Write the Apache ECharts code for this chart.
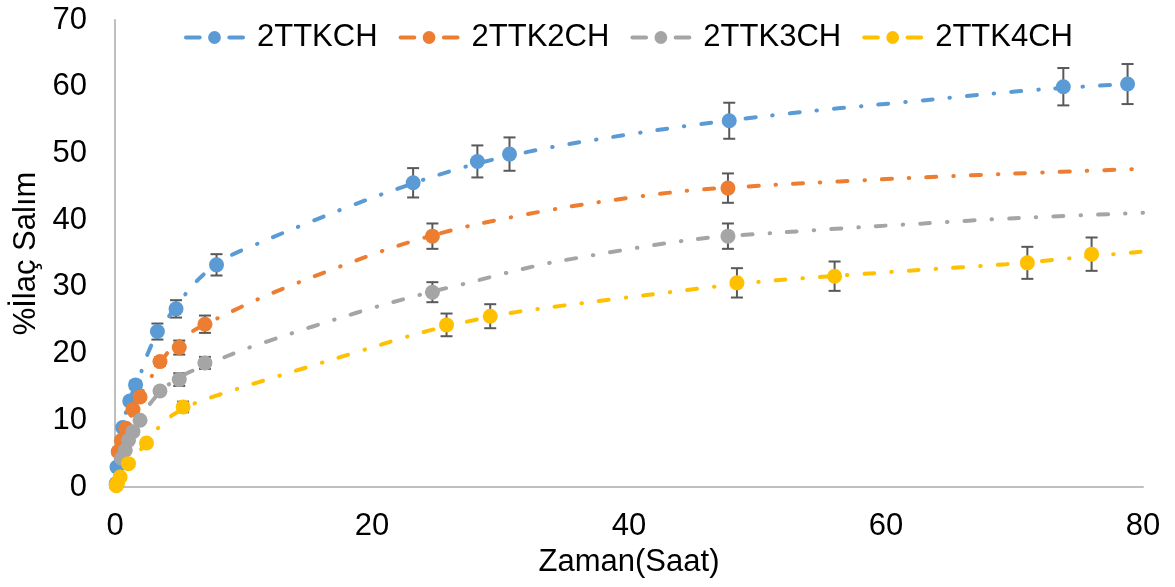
<!DOCTYPE html>
<html>
<head>
<meta charset="utf-8">
<script src="https://cdn.jsdelivr.net/npm/echarts@6/dist/echarts.min.js"></script>
<style>
  html, body { margin: 0; padding: 0; background: #ffffff; }
  #chart { width: 1175px; height: 587px; }
</style>
</head>
<body>
<div id="chart"></div>
<script>
// Series names and colours
const seriesNames = ['2TTKCH', '2TTK2CH', '2TTK3CH', '2TTK4CH'];
const seriesColors = ['#5B9BD5', '#ED7D31', '#A5A5A5', '#FFC000'];

// Axis ticks
const xTicks = [0, 20, 40, 60, 80];
const yTicks = [0, 10, 20, 30, 40, 50, 60, 70];

// Measured release points [time (h), % released]
const pts2TTKCH = [[0.1,0.5],[0.15,3.0],[0.6,8.9],[1.15,12.9],[1.6,15.3],[3.3,23.3],[4.75,26.7],[7.9,33.3],[23.2,45.6],[28.2,48.8],[30.7,49.9],[47.8,54.9],[73.8,60.0],[78.8,60.4]];
const pts2TTK2CH = [[0.1,0.3],[0.25,5.3],[0.5,7.0],[0.85,8.8],[1.4,11.6],[1.95,13.5],[3.5,18.8],[5.0,20.9],[7.0,24.4],[24.7,37.6],[47.7,44.8]];
const pts2TTK3CH = [[0.1,0.3],[0.5,4.3],[0.8,5.5],[1.05,7.0],[1.4,8.3],[1.95,10.0],[3.5,14.4],[5.0,16.1],[7.0,18.6],[24.7,29.2],[47.7,37.6]];
const pts2TTK4CH = [[0.1,0.2],[0.2,0.6],[0.4,1.5],[1.05,3.5],[2.45,6.6],[5.3,12.0],[25.8,24.3],[29.2,25.6],[48.4,30.6],[56.0,31.6],[71.0,33.6],[76.0,34.9]];

// Standard deviations (± error bars)
const err2TTKCH = [0.2,0.3,0.4,0.5,0.6,1.2,1.3,1.6,2.2,2.4,2.5,2.7,2.8,3.0];
const err2TTK2CH = [0.1,0.2,0.3,0.3,0.4,0.5,0.6,1.05,1.3,1.9,2.2];
const err2TTK3CH = [0.1,0.2,0.3,0.3,0.4,0.4,0.5,0.95,0.9,1.5,1.9];
const err2TTK4CH = [0.1,0.1,0.2,0.3,0.4,0.8,1.7,1.8,2.2,2.2,2.4,2.5];

// Trend curves (dash-dot)
const trend2TTKCH = [[0.1,0.5],[0.5,7.5],[1,12.3],[2.07,17.4],[2.46,19.6],[3.3,23.0],[5.6,29.2],[6.75,31.6],[8.5,34.2],[11.5,36.8],[13.1,38.1],[16.7,40.9],[19.8,43.2],[21.4,44.3],[24.7,46.5],[28.2,48.5],[31.8,50.1],[35.3,51.4],[44,54.0],[50.7,55.6],[54.4,56.4],[58.2,57.1],[63.7,58.1],[67.3,58.8],[72.8,59.7],[78.8,60.4]];
const trend2TTK2CH = [[0.1,0.3],[0.5,6.5],[1,9.5],[2,13.8],[2.85,16.6],[4.3,20.6],[6,23.3],[8.1,25.4],[11.3,28.3],[14.6,30.9],[18,33.4],[21.3,35.7],[24.7,37.7],[28.2,39.4],[35.3,42.0],[44,44.3],[51.4,45.3],[54.3,45.6],[58.5,46.0],[61.6,46.3],[68.9,46.9],[80,47.7]];
const trend2TTK3CH = [[0.1,0.3],[0.5,4.3],[1,6.8],[1.95,10.0],[2.7,12.4],[3.8,14.8],[5.45,16.9],[8.7,19.6],[10.3,20.8],[13.7,23.0],[17.1,25.1],[20.5,27.1],[24.7,29.3],[27.5,30.6],[30.9,32.3],[34.4,33.8],[45,37.1],[52.2,38.2],[59.3,39.1],[62.9,39.5],[70,40.3],[80,41.1]];
const trend2TTK4CH = [[0.1,0.2],[0.4,1.5],[1.05,3.5],[1.95,5.5],[3.24,8.6],[4.5,10.8],[6.15,12.5],[9.5,14.7],[13,16.8],[16.4,18.8],[19.8,20.8],[23.2,22.8],[25.8,24.1],[30.2,25.9],[33.7,26.9],[44.4,29.5],[48.4,30.4],[51.5,31.0],[58.7,32.0],[62.3,32.5],[69.4,33.4],[75,34.4],[80,35.3]];

const pointSets = [pts2TTKCH, pts2TTK2CH, pts2TTK3CH, pts2TTK4CH];
const errorSets = [err2TTKCH, err2TTK2CH, err2TTK3CH, err2TTK4CH];
const trendSets = [trend2TTKCH, trend2TTK2CH, trend2TTK3CH, trend2TTK4CH];

const FONT = "'Liberation Sans', Arial, sans-serif";
const FS = 31;
// legend marker: short dash, dot, short dash
const legendIcon = 'path://M1.5,5H15.5A2,2,0,0,1,15.5,9H1.5A2,2,0,0,1,1.5,5Z M24,7A6.5,6.5,0,1,1,37,7A6.5,6.5,0,1,1,24,7Z M45.5,5H59.5A2,2,0,0,1,59.5,9H45.5A2,2,0,0,1,45.5,5Z';

function errorBars(points, errs, idx) {
  return {
    type: 'custom',
    name: 'err-' + idx,
    silent: true,
    z: 1,
    data: points.map((p, i) => [p[0], p[1] - errs[i], p[1] + errs[i]]),
    encode: { x: 0, y: [1, 2] },
    renderItem: function (params, api) {
      const lo = api.coord([api.value(0), api.value(1)]);
      const hi = api.coord([api.value(0), api.value(2)]);
      const hw = 6;
      const st = { stroke: '#595959', lineWidth: 2 };
      return {
        type: 'group',
        children: [
          { type: 'line', shape: { x1: lo[0], y1: lo[1], x2: hi[0], y2: hi[1] }, style: st },
          { type: 'line', shape: { x1: lo[0] - hw, y1: lo[1], x2: lo[0] + hw, y2: lo[1] }, style: st },
          { type: 'line', shape: { x1: hi[0] - hw, y1: hi[1], x2: hi[0] + hw, y2: hi[1] }, style: st }
        ]
      };
    }
  };
}

const series = [];
errorSets.forEach((e, i) => series.push(errorBars(pointSets[i], e, i)));
trendSets.forEach((t, i) => series.push({
  type: 'line',
  name: 'trend-' + i,
  data: t,
  smooth: 0.3,
  showSymbol: false,
  silent: true,
  z: 2,
  lineStyle: { color: seriesColors[i], width: 4, type: [10, 17, 0.5, 17], cap: 'round' }
}));
pointSets.forEach((p, i) => series.push({
  type: 'scatter',
  name: seriesNames[i],
  data: p,
  symbol: 'circle',
  symbolSize: 15,
  z: 3,
  itemStyle: { color: seriesColors[i], opacity: 1 }
}));

const chart = echarts.init(document.getElementById('chart'), null, { renderer: 'canvas' });
chart.setOption({
  backgroundColor: '#ffffff',
  animation: false,
  textStyle: { fontFamily: FONT },
  legend: {
    left: 179,
    top: 17,
    itemWidth: 61,
    itemHeight: 13,
    itemGap: 21,
    data: seriesNames.map((n, i) => ({ name: n, icon: legendIcon, itemStyle: { color: seriesColors[i] } })),
    textStyle: { fontSize: FS, color: '#000', fontFamily: FONT, padding: [0, 0, 0, 7] }
  },
  grid: { left: 115, right: 32, top: 20, bottom: 100 },
  xAxis: {
    type: 'value',
    min: xTicks[0],
    max: xTicks[xTicks.length - 1],
    interval: xTicks[1] - xTicks[0],
    name: 'Zaman(Saat)',
    nameLocation: 'middle',
    nameGap: 60,
    nameTextStyle: { fontSize: FS, color: '#000', fontFamily: FONT },
    axisLine: { show: true, onZero: false, lineStyle: { color: '#BFBFBF', width: 2 } },
    axisTick: { show: false },
    splitLine: { show: false },
    axisLabel: { fontSize: FS, color: '#000', margin: 24, fontFamily: FONT }
  },
  yAxis: {
    type: 'value',
    min: yTicks[0],
    max: yTicks[yTicks.length - 1],
    interval: yTicks[1] - yTicks[0],
    name: '%İlaç Salım',
    nameLocation: 'middle',
    nameGap: 73,
    nameTextStyle: { fontSize: FS, color: '#000', fontFamily: FONT },
    axisLine: { show: true, lineStyle: { color: '#BFBFBF', width: 2 } },
    axisTick: { show: false },
    splitLine: { show: false },
    axisLabel: { fontSize: FS, color: '#000', margin: 28, fontFamily: FONT }
  },
  series: series
});
</script>
</body>
</html>
